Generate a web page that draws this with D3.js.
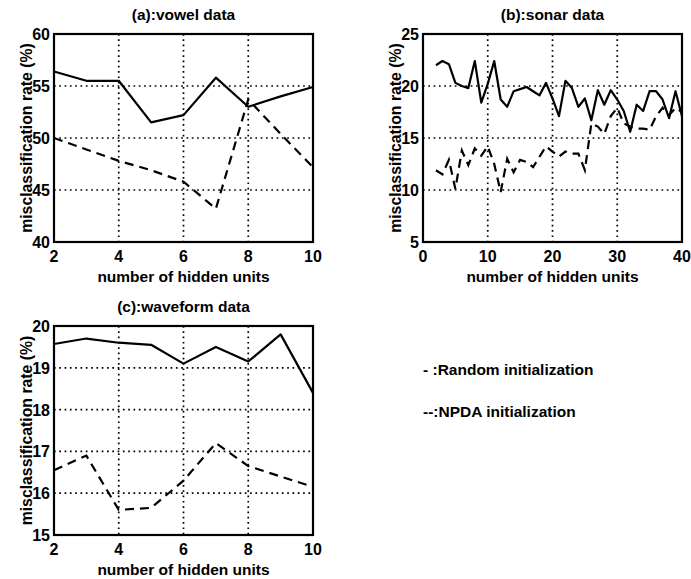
<!DOCTYPE html>
<html>
<head>
<meta charset="utf-8">
<script src="https://cdn.jsdelivr.net/npm/d3@7"></script>
<style>
body { margin: 0; background: #fff; }
text { font-family: "Liberation Sans", Arial, sans-serif; fill: #000; font-weight: bold; }
</style>
</head>
<body>
<svg id="chart" width="691" height="579"></svg>
<script>
// (a) vowel data
var vowelUnits = [2, 3, 4, 5, 6, 7, 8, 9, 10];
var vowelRandom = [56.4, 55.5, 55.5, 51.5, 52.2, 55.8, 53.0, 54.0, 54.9];
var vowelNpda = [50.0, 48.9, 47.8, 46.9, 45.8, 43.2, 53.7, 50.4, 47.2];

// (b) sonar data
var sonarUnits = d3.range(2, 41);
var sonarRandom = [22.0, 22.4, 22.1, 20.3, 20.0, 19.8, 22.4, 18.4, 20.2, 22.4,
	18.7, 18.0, 19.5, 19.7, 19.9, 19.5, 19.1, 20.3, 18.8, 17.1,
	20.5, 19.8, 18.0, 18.8, 16.7, 19.6, 18.2, 19.6, 18.7, 17.6,
	15.6, 18.2, 17.6, 19.5, 19.5, 18.7, 16.9, 19.5, 17.1];
var sonarNpda = [11.9, 11.5, 12.9, 10.1, 13.8, 12.4, 14.0, 13.3, 14.2, 12.5,
	9.8, 13.0, 11.7, 12.9, 12.7, 12.2, 13.2, 14.2, 13.7, 13.2,
	13.7, 13.5, 13.5, 11.9, 16.4, 16.1, 15.4, 17.1, 17.9, 16.4,
	16.1, 15.9, 15.9, 15.8, 17.1, 17.9, 17.2, 17.9, 17.5];

// (c) waveform data
var waveUnits = [2, 3, 4, 5, 6, 7, 8, 9, 10];
var waveRandom = [19.57, 19.7, 19.6, 19.55, 19.1, 19.5, 19.15, 19.8, 18.4];
var waveNpda = [16.55, 16.9, 15.6, 15.65, 16.3, 17.2, 16.65, 16.4, 16.15];

var legendLabels = ["- :Random initialization", "--:NPDA initialization"];

var svg = d3.select("#chart");

function panel(opt){
	var g = svg.append("g");
	var x = d3.scaleLinear().domain(opt.xDomain).range([opt.left, opt.right]);
	var y = d3.scaleLinear().domain(opt.yDomain).range([opt.bottom, opt.top]);

	//dotted grid
	g.selectAll(".gx").data(opt.xTicks.slice(1, -1)).enter().append("line")
		.attr("x1", function(d){ return x(d); }).attr("x2", function(d){ return x(d); })
		.attr("y1", opt.top).attr("y2", opt.bottom)
		.attr("stroke", "#000").attr("stroke-width", 1.7)
		.attr("stroke-dasharray", "1.7,3.6");
	g.selectAll(".gy").data(opt.yTicks.slice(1, -1)).enter().append("line")
		.attr("y1", function(d){ return y(d); }).attr("y2", function(d){ return y(d); })
		.attr("x1", opt.left).attr("x2", opt.right)
		.attr("stroke", "#000").attr("stroke-width", 1.7)
		.attr("stroke-dasharray", "1.7,3.6");

	var line = d3.line()
		.x(function(d){ return x(d[0]); })
		.y(function(d){ return y(d[1]); });

	g.append("path")
		.datum(d3.zip(opt.units, opt.solid))
		.attr("d", line)
		.attr("fill", "none").attr("stroke", "#000").attr("stroke-width", 2.2)
		.attr("stroke-linejoin", "round");
	g.append("path")
		.datum(d3.zip(opt.units, opt.dashed))
		.attr("d", line)
		.attr("fill", "none").attr("stroke", "#000").attr("stroke-width", 2.2)
		.attr("stroke-dasharray", "9,6");

	g.append("rect")
		.attr("x", opt.left).attr("y", opt.top)
		.attr("width", opt.right - opt.left).attr("height", opt.bottom - opt.top)
		.attr("fill", "none").attr("stroke", "#000").attr("stroke-width", 2.2);

	g.selectAll(".xt").data(opt.xTicks).enter().append("text")
		.attr("x", function(d){ return x(d); })
		.attr("y", opt.bottom + 20)
		.attr("text-anchor", "middle")
		.style("font-size", "16px")
		.text(function(d){ return d; });
	g.selectAll(".yt").data(opt.yTicks).enter().append("text")
		.attr("x", opt.left - 4)
		.attr("y", function(d){ return y(d) + 6; })
		.attr("text-anchor", "end")
		.style("font-size", "16px")
		.text(function(d){ return d; });

	g.append("text")
		.attr("x", (opt.left + opt.right) / 2).attr("y", opt.top - 14)
		.attr("text-anchor", "middle")
		.style("font-size", "15.5px")
		.text(opt.title);
	g.append("text")
		.attr("x", (opt.left + opt.right) / 2).attr("y", opt.bottom + 40)
		.attr("text-anchor", "middle")
		.style("font-size", "15.5px")
		.text("number of hidden units");
	g.append("text")
		.attr("transform", "translate(" + (opt.left - 22) + "," + ((opt.top + opt.bottom) / 2) + ") rotate(-90)")
		.attr("text-anchor", "middle")
		.style("font-size", "15.8px")
		.text("misclassification rate (%)");
}

panel({ left: 54, right: 313, top: 34, bottom: 242,
	xDomain: [2, 10], yDomain: [40, 60],
	xTicks: [2, 4, 6, 8, 10], yTicks: [40, 45, 50, 55, 60],
	units: vowelUnits, solid: vowelRandom, dashed: vowelNpda,
	title: "(a):vowel data" });

panel({ left: 423, right: 682, top: 34, bottom: 242,
	xDomain: [0, 40], yDomain: [5, 25],
	xTicks: [0, 10, 20, 30, 40], yTicks: [5, 10, 15, 20, 25],
	units: sonarUnits, solid: sonarRandom, dashed: sonarNpda,
	title: "(b):sonar data" });

panel({ left: 54, right: 313, top: 326, bottom: 535,
	xDomain: [2, 10], yDomain: [15, 20],
	xTicks: [2, 4, 6, 8, 10], yTicks: [15, 16, 17, 18, 19, 20],
	units: waveUnits, solid: waveRandom, dashed: waveNpda,
	title: "(c):waveform data" });

svg.selectAll(".legend").data(legendLabels).enter().append("text")
	.attr("x", 423)
	.attr("y", function(d, i){ return 375 + i * 42; })
	.style("font-size", "15.5px")
	.text(function(d){ return d; });
</script>
</body>
</html>
